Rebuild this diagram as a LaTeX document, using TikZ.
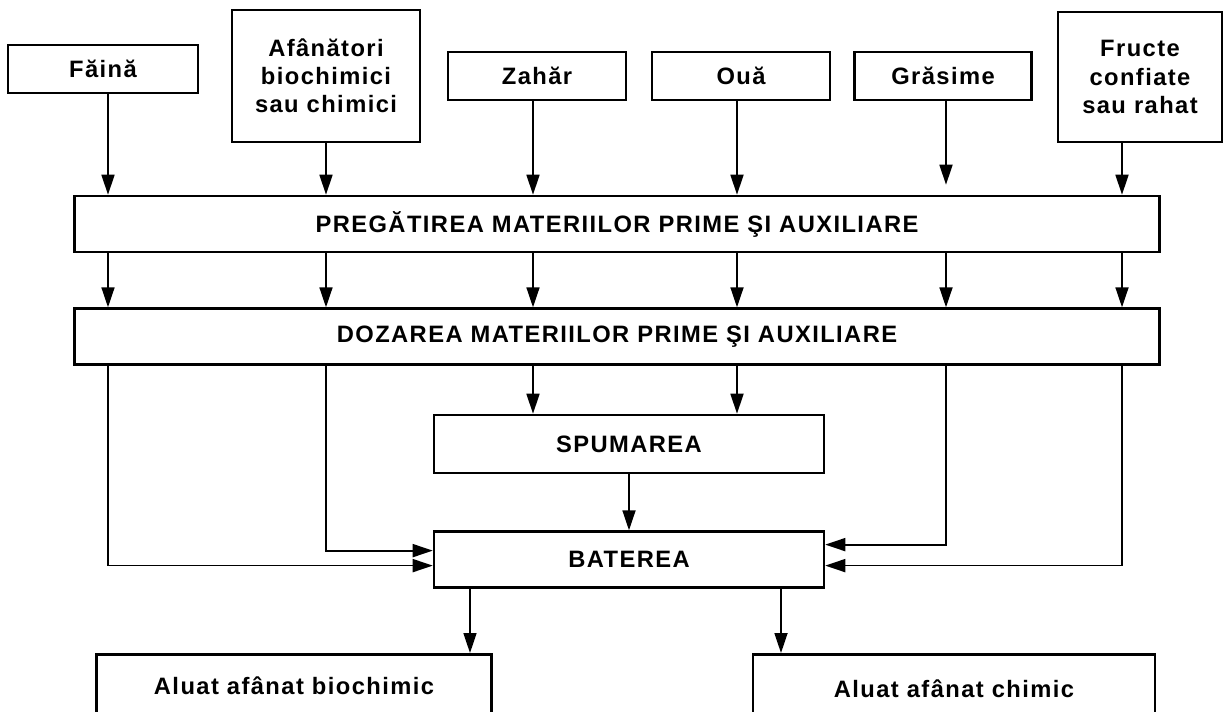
\documentclass[tikz,border=0pt]{standalone}
\usepackage{fontspec}
\setmainfont{Liberation Sans}
\newfontfamily\boxfont[LetterSpace=6]{Liberation Sans}
\usetikzlibrary{arrows.meta,positioning}

\begin{document}
\begin{tikzpicture}[
x=0.02cm, y=-0.02cm,
box/.style={draw, line width=1.5pt, align=center, inner sep=2pt, font=\boxfont\bfseries\fontsize{13.5}{16}\selectfont},
arr/.style={-{Triangle[length=0.4cm, width=0.26cm]}, line width=1pt}
]
\useasboundingbox (0,0) rectangle (1225,711);

% raw materials
\node[box, minimum width=3.8cm, minimum height=0.96cm] (faina) at (103,69) {Făină};
\node[box, minimum width=3.76cm, minimum height=2.64cm] (afan) at (326,76) {Afânători\\biochimici\\sau chimici};
\node[box, minimum width=3.56cm, minimum height=0.96cm] (zahar) at (537,76) {Zahăr};
\node[box, minimum width=3.56cm, minimum height=0.96cm] (oua) at (741,76) {Ouă};
\node[box, minimum width=3.54cm, minimum height=0.96cm] (grasime) at (943,76) {Grăsime};
\node[box, minimum width=3.28cm, minimum height=2.6cm] (fructe) at (1140,77) {Fructe\\confiate\\sau rahat};

% process steps
\node[box, minimum width=21.7cm, minimum height=1.12cm] (preg) at (617,224) {PREGĂTIREA MATERIILOR PRIME ŞI AUXILIARE};
\node[box, minimum width=21.7cm, minimum height=1.12cm, below=1.08cm of preg] (doz) {DOZAREA MATERIILOR PRIME ŞI AUXILIARE};
\node[box, minimum width=7.8cm, minimum height=1.16cm] (spum) at (629,444) {SPUMAREA};
\node[box, minimum width=7.8cm, minimum height=1.12cm, below=1.12cm of spum] (bat) {BATEREA};

% products
\node[box, minimum width=7.9cm, minimum height=1.24cm, anchor=north] (bio) at (294,653) {Aluat afânat biochimic};
\node[box, minimum width=8.04cm, minimum height=1.36cm, anchor=north] (chim) at (954,653) {Aluat afânat chimic};

\coordinate (c1) at (108,0);
\coordinate (c2) at (326,0);
\coordinate (c3) at (533,0);
\coordinate (c4) at (737,0);
\coordinate (c5) at (946,0);
\coordinate (c6) at (1122,0);
\coordinate (o1) at (470,0);
\coordinate (o2) at (781,0);

\draw[arr] (faina.south -| c1) -- (preg.north -| c1);
\draw[arr] (afan.south -| c2) -- (preg.north -| c2);
\draw[arr] (zahar.south -| c3) -- (preg.north -| c3);
\draw[arr] (oua.south -| c4) -- (preg.north -| c4);
\draw[arr, shorten >=0.2cm] (grasime.south -| c5) -- (preg.north -| c5);
\draw[arr] (fructe.south -| c6) -- (preg.north -| c6);

\draw[arr] (preg.south -| c1) -- (doz.north -| c1);
\draw[arr] (preg.south -| c2) -- (doz.north -| c2);
\draw[arr] (preg.south -| c3) -- (doz.north -| c3);
\draw[arr] (preg.south -| c4) -- (doz.north -| c4);
\draw[arr] (preg.south -| c5) -- (doz.north -| c5);
\draw[arr] (preg.south -| c6) -- (doz.north -| c6);

\draw[arr] (doz.south -| c3) -- (spum.north -| c3);
\draw[arr] (doz.south -| c4) -- (spum.north -| c4);
\draw[arr] (spum) -- (bat);

\draw[arr] (doz.south -| c1) |- ([yshift=-0.12cm]bat.west);
\draw[arr] (doz.south -| c2) |- ([yshift=0.18cm]bat.west);
\draw[arr] (doz.south -| c5) |- ([yshift=0.3cm]bat.east);
\draw[arr] (doz.south -| c6) |- ([yshift=-0.12cm]bat.east);

\draw[arr] (bat.south -| o1) -- (bio.north -| o1);
\draw[arr] (bat.south -| o2) -- (chim.north -| o2);
\end{tikzpicture}
\end{document}
